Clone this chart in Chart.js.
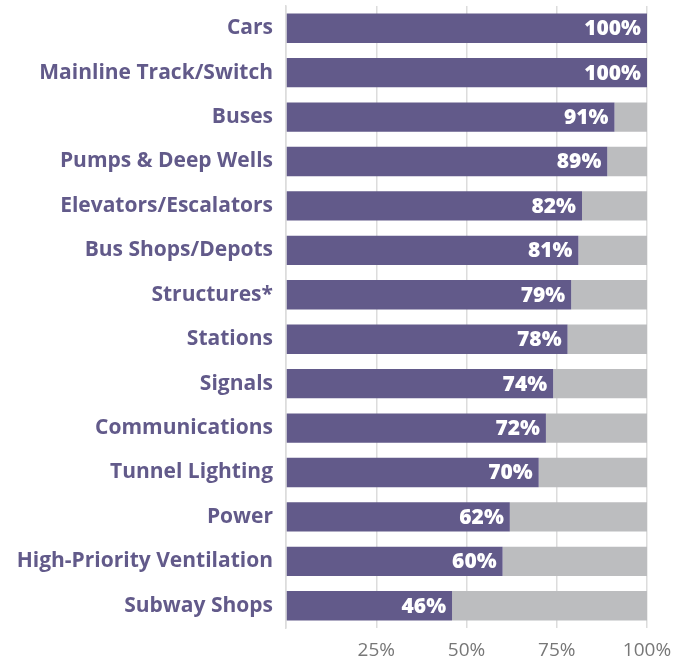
<!DOCTYPE html>
<html>
<head>
<meta charset="utf-8">
<script src="https://cdn.jsdelivr.net/npm/chart.js@4"></script>
<style>
  html, body { margin: 0; padding: 0; background: #fff; }
  #wrap { position: relative; width: 689px; height: 658px; }
</style>
</head>
<body>
<div id="wrap"><canvas id="chart"></canvas></div>
<script>
const categories = [
  'Cars', 'Mainline Track/Switch', 'Buses', 'Pumps & Deep Wells',
  'Elevators/Escalators', 'Bus Shops/Depots', 'Structures*', 'Stations',
  'Signals', 'Communications', 'Tunnel Lighting', 'Power',
  'High-Priority Ventilation', 'Subway Shops'
];
const stateOfGood = [100, 100, 91, 89, 82, 81, 79, 78, 74, 72, 70, 62, 60, 46];
const remainder = stateOfGood.map(v => 100 - v);
const tickValues = [25, 50, 75, 100];

const purple = '#625a8a';
const grey = '#bcbdbf';

// white % labels at the end of each purple bar
const barLabels = {
  id: 'barLabels',
  afterDatasetsDraw(chart) {
    const ctx = chart.ctx;
    const meta = chart.getDatasetMeta(0);
    ctx.save();
    ctx.fillStyle = '#fff';
    ctx.font = '800 21px "Open Sans"';
    ctx.textAlign = 'right';
    ctx.textBaseline = 'middle';
    meta.data.forEach((bar, i) => {
      ctx.fillText(stateOfGood[i] + '%', bar.x - 6, bar.y + 1);
    });
    ctx.restore();
  }
};

new Chart(document.getElementById('chart'), {
  type: 'bar',
  data: {
    labels: categories,
    datasets: [
      { data: stateOfGood, backgroundColor: purple, barPercentage: 0.66, categoryPercentage: 1 },
      { data: remainder, backgroundColor: grey, barPercentage: 0.66, categoryPercentage: 1 }
    ]
  },
  options: {
    indexAxis: 'y',
    responsive: true,
    maintainAspectRatio: false,
    animation: false,
    layout: { padding: { top: 6, right: 42, left: 0, bottom: 0 } },
    plugins: { legend: { display: false }, tooltip: { enabled: false } },
    scales: {
      x: {
        stacked: true,
        min: 0,
        max: 100,
        afterBuildTicks: axis => { axis.ticks = [0, ...tickValues].map(v => ({ value: v })); },
        grid: { color: '#dcdcdc', lineWidth: 1.5, drawTicks: false, tickLength: 0 },
        border: { display: false },
        ticks: {
          color: '#777',
          font: { family: 'Open Sans', size: 19 },
          padding: 11,
          maxRotation: 0,
          callback: v => v === 0 ? '' : v + '%'
        },
        afterFit: s => { s.height = 30; }
      },
      y: {
        stacked: true,
        grid: { display: false, drawTicks: false },
        border: { display: true, color: '#dcdcdc', width: 1.5 },
        ticks: {
          color: purple,
          font: { family: 'Open Sans', size: 21, weight: 'bold' },
          padding: 13
        },
        afterFit: s => { s.width = 286; s.paddingTop = 0; s.paddingBottom = 0; }
      }
    }
  },
  plugins: [barLabels]
});
</script>
</body>
</html>
